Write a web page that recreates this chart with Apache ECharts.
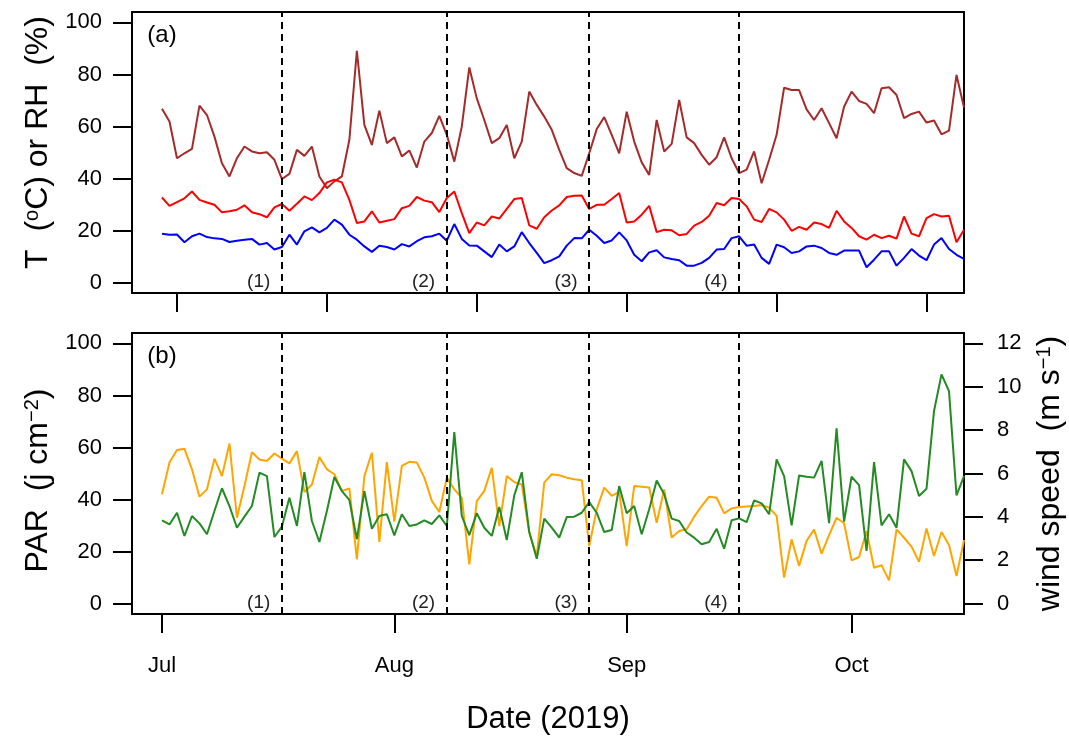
<!DOCTYPE html>
<html><head><meta charset="utf-8">
<script src="https://cdn.jsdelivr.net/npm/echarts@6/dist/echarts.min.js"></script>
<style>html,body{margin:0;padding:0;background:#fff}#c{width:1069px;height:736px}</style>
</head><body><div id="c"></div>
<script>
// Day offsets from 2019-07-01 (day 0) to 2019-10-16 (day 107)
const startDate = '2019-07-01';
const rh = [66.8,61.9,47.8,49.7,51.4,68.0,64.4,56.1,45.9,40.8,47.8,52.3,50.4,49.7,50.1,47.2,39.8,41.8,51.0,48.7,52.3,40.8,36.3,38.9,40.8,54.9,89.1,60.6,52.9,66.1,53.6,55.8,48.5,50.8,44.2,54.2,57.5,64.1,56.8,46.5,60.0,82.7,70.8,62.5,53.6,55.5,60.6,47.8,54.2,73.4,68.3,63.8,58.7,51.0,44.0,42.1,41.0,49.7,59.0,63.6,56.8,49.7,65.7,54.2,46.2,41.4,62.5,50.4,53.3,70.2,55.8,53.6,49.1,45.3,48.2,55.8,47.8,42.1,43.4,50.4,38.2,47.2,56.8,74.9,74.0,74.0,66.6,62.5,67.0,61.3,55.5,67.6,73.4,69.8,68.7,65.1,74.7,75.1,72.1,63.2,64.8,65.7,61.5,62.3,57.0,58.4,79.8,67.3];
const tempHigh = [32.7,29.5,30.9,32.4,35.0,31.8,30.8,29.9,27.0,27.4,28.0,29.7,27.0,26.3,25.1,28.9,30.2,27.6,30.3,33.1,31.7,34.4,38.5,39.5,38.5,31.8,22.9,23.5,27.4,23.1,23.8,24.4,28.6,29.5,32.9,31.5,30.9,27.1,32.5,35.0,26.7,19.0,23.1,22.0,25.4,24.6,28.3,32.1,32.5,22.0,20.7,25.1,27.7,29.7,32.9,33.4,33.5,28.3,29.9,29.9,32.1,34.4,23.1,23.5,26.1,29.5,19.4,20.3,20.1,18.2,18.7,21.9,23.3,25.7,30.6,29.7,32.5,32.1,29.3,24.2,23.3,28.3,27.0,24.2,19.9,21.4,20.3,23.1,22.5,21.0,27.6,23.5,21.0,17.8,16.5,18.4,17.1,18.0,16.9,25.4,18.8,17.8,24.8,26.3,25.4,25.7,15.5,20.3];
const tempLow = [18.8,18.4,18.5,15.5,17.8,18.8,17.5,17.0,16.8,15.6,16.1,16.5,16.8,14.6,15.2,12.7,13.7,18.4,14.6,19.7,21.2,19.3,21.0,24.2,22.3,18.4,16.5,13.9,11.8,14.2,13.7,12.7,14.8,13.9,15.9,17.4,17.8,18.8,16.1,22.5,16.8,14.3,14.2,12.0,9.8,14.6,12.0,13.9,19.4,15.2,11.4,7.5,8.6,10.1,14.2,17.1,17.0,20.3,18.0,15.2,16.2,19.3,16.2,10.7,8.2,11.6,12.4,9.7,9.1,8.6,6.5,6.5,7.6,9.5,12.7,12.9,17.1,17.8,14.2,14.6,9.5,7.2,14.6,13.6,11.4,12.0,13.9,14.2,13.3,11.4,10.7,12.3,12.3,12.3,5.9,8.8,12.0,12.0,6.5,9.5,12.9,10.4,8.6,14.6,17.1,12.9,10.7,9.1];
const par = [42.0,54.2,59.0,59.5,51.6,41.1,43.9,55.7,49.0,61.5,33.0,45.2,58.2,55.4,54.8,57.7,55.7,53.9,58.6,42.9,45.8,56.3,51.6,49.7,43.3,44.3,17.0,49.0,58.0,23.7,54.4,31.5,52.9,54.5,54.2,48.4,39.5,35.2,48.4,43.9,40.7,15.1,39.4,43.3,52.2,29.8,49.0,46.7,45.8,27.3,18.3,46.5,49.7,49.3,48.4,47.8,47.4,22.1,36.2,44.6,41.4,42.9,22.1,45.2,44.9,44.6,31.1,43.9,25.4,27.9,28.6,33.4,37.5,41.1,40.7,34.7,36.6,37.1,37.3,37.5,37.9,36.9,33.7,10.0,24.7,14.5,24.1,28.5,19.2,26.3,33.0,30.9,16.6,17.9,27.9,13.8,14.8,8.9,28.5,25.3,21.9,16.1,28.9,18.3,27.5,22.5,10.6,24.4];
const wind = [3.84,3.65,4.19,3.12,4.04,3.70,3.20,4.27,5.32,4.50,3.50,4.01,4.50,6.04,5.88,3.07,3.55,4.88,3.58,6.06,3.81,2.84,4.27,5.84,5.19,4.78,2.97,5.19,3.45,4.04,4.12,3.15,4.12,3.58,3.65,3.84,3.67,4.07,3.58,7.91,4.04,3.16,4.17,3.50,3.12,4.46,2.93,4.99,6.06,3.30,2.07,3.92,3.50,3.04,3.99,4.01,4.19,4.68,4.19,3.30,3.39,5.42,4.17,4.50,3.20,4.35,5.68,5.04,3.92,3.81,3.28,3.04,2.74,2.84,3.45,2.53,3.84,3.93,3.76,4.76,4.62,4.12,6.65,5.88,3.61,5.91,5.85,5.81,6.58,3.71,8.08,3.78,5.85,5.46,2.43,6.53,3.61,4.12,3.50,6.65,6.11,4.96,5.30,8.88,10.57,9.80,4.99,5.88];

const periodLines = [16, 38, 57, 77];            // day offsets of dashed lines
const periodLabels = ['(1)', '(2)', '(3)', '(4)'];
const monthTicks = [0, 31, 62, 92];              // Jul 1, Aug 1, Sep 1, Oct 1
const monthLabels = ['Jul', 'Aug', 'Sep', 'Oct'];
const topTicks = [2, 22, 42, 62, 82, 102];
const leftTicks = [0, 20, 40, 60, 80, 100];
const rightTicks = [0, 2, 4, 6, 8, 10, 12];
const panelLabels = ['(a)', '(b)'];

const FONT = '"Liberation Sans", Arial, sans-serif';
const pair = arr => arr.map((v, i) => [i, v]);

const tickStyle = {color: '#000', width: 2};
function xAx(grid, ticks, labels) {
  return {
    gridIndex: grid, type: 'value', min: -4, max: 107, position: 'bottom',
    axisLine: {show: false, onZero: false}, splitLine: {show: false},
    axisTick: {show: true, inside: false, customValues: ticks, length: 19, lineStyle: tickStyle},
    axisLabel: labels ? {show: true, customValues: ticks, formatter: v => labels[ticks.indexOf(v)],
      fontSize: 22, fontFamily: FONT, color: '#000', margin: 41} : {show: false}
  };
}
function yAx(grid, min, max, ticks, pos, name, gap, pad) {
  return {
    gridIndex: grid, type: 'value', min: min, max: max, position: pos,
    axisLine: {show: false, onZero: false}, splitLine: {show: false},
    axisTick: {show: true, inside: false, customValues: ticks, length: 19, lineStyle: tickStyle},
    axisLabel: {show: true, customValues: ticks, fontSize: 22, fontFamily: FONT, color: '#000', margin: pos === 'left' ? 30 : 33},
    name: name, nameLocation: 'middle', nameRotate: 90, nameGap: gap,
    nameTextStyle: {fontSize: 32, fontFamily: FONT, color: '#000', padding: pad || 0,
      rich: {n: {fontSize: 32, fontFamily: FONT, color: '#000'},
             s: {fontSize: 20, fontFamily: FONT, color: '#000', verticalAlign: 'top'}}}
  };
}
const dashed = {
  symbol: 'none', silent: true, label: {show: false}, animation: false,
  lineStyle: {type: [7, 5], color: '#000', width: 2},
  data: periodLines.map(d => ({xAxis: d}))
};
function labelPoints(panel) {
  return {
    symbol: 'rect', symbolSize: 1, silent: true, itemStyle: {color: 'rgba(0,0,0,0)'},
    label: {show: true, position: 'inside', formatter: p => p.name, fontFamily: FONT, color: '#222', fontSize: 19},
    data: periodLines.map((d, i) => ({name: periodLabels[i], coord: [d - 3.1, 0.5]})).concat([
      {name: panelLabels[panel], coord: [0, 95], label: {fontSize: 24, color: '#000'}}
    ])
  };
}
const line = (name, data, color, xi, yi, extra) => Object.assign({
  name: name, type: 'line', data: pair(data), xAxisIndex: xi, yAxisIndex: yi,
  showSymbol: false, symbol: 'none', lineStyle: {color: color, width: 2}, itemStyle: {color: color},
  animation: false, clip: true
}, extra || {});

const gridBase = {left: 132, right: 105, height: 281, show: true, borderColor: '#000', borderWidth: 2,
  backgroundColor: 'rgba(0,0,0,0)', containLabel: false, outerBoundsMode: 'none'};
const option = {
  backgroundColor: '#fff',
  animation: false,
  grid: [
    Object.assign({top: 12}, gridBase),
    Object.assign({top: 333}, gridBase)
  ],
  xAxis: [
    xAx(0, topTicks, null),
    Object.assign(xAx(1, monthTicks, monthLabels), {
      name: 'Date (2019)', nameLocation: 'middle', nameGap: 90,
      nameTextStyle: {fontSize: 31, fontFamily: FONT, color: '#000'}
    })
  ],
  yAxis: [
    yAx(0, -4, 104, leftTicks, 'left', '{n|T  (}{s|o}{n|C) or RH  (%)}', 78, [0, 0, 0, 20]),
    yAx(1, -4, 104, leftTicks, 'left', '{n|PAR  (j cm}{s|\u22122}{n|)}', 78, [0, 14, 0, 0]),
    yAx(1, -0.48, 12.48, rightTicks, 'right', '{n|wind speed  (m s}{s|\u22121}{n|)}', 70)
  ],
  series: [
    line('RH', rh, '#A52A2A', 0, 0, {markLine: dashed, markPoint: labelPoints(0)}),
    line('T high', tempHigh, '#FF0000', 0, 0),
    line('T low', tempLow, '#0000FF', 0, 0),
    line('PAR', par, '#FFA500', 1, 1, {markLine: dashed, markPoint: labelPoints(1)}),
    line('Wind', wind, '#228B22', 1, 2)
  ]
};
const chart = echarts.init(document.getElementById('c'));
chart.setOption(option);
</script></body></html>
